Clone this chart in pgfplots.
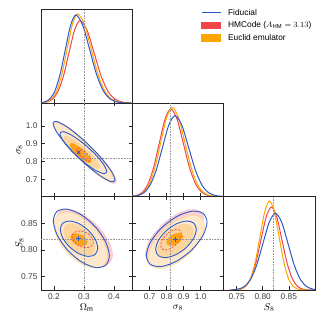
\documentclass[border=0pt]{standalone}
\usepackage{fontspec}
\setmainfont{Liberation Sans}
\usepackage{pgfplots}
\pgfplotsset{compat=1.18}

\definecolor{fidblue}{RGB}{45,90,200}
\definecolor{hmred}{RGB}{243,68,72}
\definecolor{eeorange}{RGB}{255,165,0}
\definecolor{hmpink}{RGB}{249,207,207}
\definecolor{eepeach}{RGB}{253,232,204}
\definecolor{eemed}{RGB}{252,212,158}
\definecolor{eecore}{RGB}{255,163,20}

\pgfplotsset{
  tri/.style={
    scale only axis, width=91.3bp, height=93.5bp, anchor=south west,
    axis line style={line width=0.6pt, black!85},
    tick align=inside, major tick length=3.5bp,
    every tick/.style={black!85, line width=0.5pt},
    tick label style={font=\fontsize{8.4}{10}\selectfont, text=black!75},
    label style={font=\fontsize{9}{11}\selectfont},
    /pgf/number format/assume math mode=true,
    every axis y label/.style={at={(rel axis cs:-0.235,0.5)}, rotate=90, anchor=center},
    every axis x label/.style={at={(rel axis cs:0.5,-0.19)}, anchor=center},
  },
  oneD/.style={ymin=0, ymax=1.05, ytick=\empty, xtick pos=lower},
  om/.style={xmin=0.157, xmax=0.461, xtick={0.2,0.3,0.4}},
  sx/.style={xmin=0.5976, xmax=1.1347, xtick={0.7,0.8,0.9,1.0}},
  Sx/.style={xmin=0.725, xmax=0.90, xtick={0.75,0.80,0.85}},
  one/.style={/pgf/number format/.cd, fixed, fixed zerofill, precision=1},
  two/.style={/pgf/number format/.cd, fixed, fixed zerofill, precision=2},
  refline/.style={black!40, densely dotted, line width=0.6pt},
  pinkf/.style={smooth cycle, fill=hmpink, draw=hmred!30, line width=0.4pt},
  peachf/.style={smooth cycle, fill=eepeach, draw=eeorange!45, line width=0.4pt},
  medf/.style={smooth cycle, fill=eemed, draw=none},
  coref/.style={smooth cycle, fill=eecore, draw=none},
  reddash/.style={smooth cycle, draw=hmred, line width=0.7pt, dash pattern=on 2bp off 1.5bp},
  blueln/.style={smooth cycle, draw=fidblue, line width=0.9pt},
  c1d/.style={smooth, line width=1bp, forget plot},
}

\begin{document}
\begin{tikzpicture}
\useasboundingbox (0,0) rectangle (325bp,325bp);

% ---- Omega_m 1D
\begin{axis}[tri, oneD, om, at={(41bp,222bp)}, xticklabels={},
  legend style={at={(rel axis cs:1.7525,1.029)}, anchor=north west, draw=none, fill=none,
    inner sep=0pt, font=\fontsize{8.4}{10}\selectfont, row sep=1bp, cells={anchor=west},
    /tikz/every odd column/.append style={column sep=5bp}}]
\addplot[c1d, hmred] coordinates {(0.1575,0.0020)(0.176,0.0103)(0.1945,0.0406)(0.213,0.1250)(0.2315,0.3000)(0.25,0.5604)(0.2685,0.8154)(0.287,0.924)(0.3105,0.8154)(0.334,0.5604)(0.3575,0.3000)(0.381,0.1250)(0.4045,0.0406)(0.428,0.0103)(0.4515,0.0020)};
\addplot[c1d, eeorange] coordinates {(0.1565,0.0022)(0.174,0.0111)(0.1915,0.0439)(0.209,0.1353)(0.2265,0.3247)(0.244,0.6065)(0.2615,0.8825)(0.279,1.0)(0.3015,0.8825)(0.324,0.6065)(0.3465,0.3247)(0.369,0.1353)(0.3915,0.0439)(0.414,0.0111)(0.4365,0.0022)(0.459,0.0003)};
\addplot[c1d, fidblue] coordinates {(0.1505,0.0022)(0.168,0.0110)(0.1855,0.0434)(0.203,0.1337)(0.2205,0.3208)(0.238,0.5992)(0.2555,0.8719)(0.273,0.988)(0.296,0.8719)(0.319,0.5992)(0.342,0.3208)(0.365,0.1337)(0.388,0.0434)(0.411,0.0110)(0.434,0.0022)(0.457,0.0003)};
\addplot[refline, forget plot] coordinates {(0.3,0)(0.3,1.05)};
\addlegendimage{legend image code/.code={\draw[fidblue, line width=0.9pt] (0bp,0bp) -- (19bp,0bp);}}
\addlegendentry{Fiducial}
\addlegendimage{legend image code/.code={\fill[hmred] (0bp,-3.3bp) rectangle (19bp,3.3bp);}}
\addlegendentry{HMCode ($A_{\mathrm{HM}}=3.13$)}
\addlegendimage{legend image code/.code={\fill[eeorange] (0bp,-3.3bp) rectangle (19bp,3.3bp);}}
\addlegendentry{Euclid emulator}
\end{axis}

% ---- Omega_m vs sigma_8
\begin{axis}[tri, om, at={(41bp,128.5bp)}, xticklabels={},
  ymin=0.603, ymax=1.129, ytick={0.7,0.8,0.9,1.0}, yticklabel style={one},
  ylabel={$\sigma_8$}]
\addplot[pinkf] coordinates {(0.4081,0.6875)(0.3944,0.7407)(0.3570,0.8227)(0.3059,0.9115)(0.2548,0.9833)(0.2174,1.0188)(0.2037,1.0085)(0.2174,0.9553)(0.2548,0.8733)(0.3059,0.7845)(0.3570,0.7127)(0.3944,0.6772)};
\addplot[peachf] coordinates {(0.3992,0.6964)(0.3858,0.7479)(0.3492,0.8273)(0.2992,0.9132)(0.2492,0.9826)(0.2126,1.0169)(0.1992,1.0070)(0.2126,0.9555)(0.2492,0.8761)(0.2992,0.7902)(0.3492,0.7208)(0.3858,0.6865)};
\addplot[medf] coordinates {(0.3537,0.7673)(0.3455,0.7990)(0.3232,0.8449)(0.2926,0.8926)(0.2621,0.9293)(0.2397,0.9453)(0.2315,0.9361)(0.2397,0.9044)(0.2621,0.8585)(0.2926,0.8108)(0.3232,0.7741)(0.3455,0.7581)};
\addplot[coref] coordinates {(0.3237,0.8001)(0.3189,0.8214)(0.3059,0.8498)(0.2881,0.8777)(0.2703,0.8976)(0.2573,0.9043)(0.2525,0.8959)(0.2573,0.8746)(0.2703,0.8462)(0.2881,0.8183)(0.3059,0.7984)(0.3189,0.7917)};
\addplot[refline] coordinates {(0.3,0.603)(0.3,1.129)};
\addplot[refline] coordinates {(0.157,0.82)(0.461,0.82)};
\addplot[reddash] coordinates {(0.3236,0.8086)(0.3203,0.8239)(0.3114,0.8431)(0.2992,0.8611)(0.2870,0.8731)(0.2781,0.8758)(0.2748,0.8686)(0.2781,0.8533)(0.2870,0.8341)(0.2992,0.8161)(0.3114,0.8041)(0.3203,0.8014)};
\addplot[blueln] coordinates {(0.4036,0.6967)(0.3898,0.7494)(0.3520,0.8305)(0.3003,0.9183)(0.2487,0.9893)(0.2108,1.0244)(0.1970,1.0143)(0.2108,0.9616)(0.2487,0.8805)(0.3003,0.7927)(0.3520,0.7217)(0.3898,0.6866)};
\addplot[blueln] coordinates {(0.3759,0.7435)(0.3655,0.7835)(0.3370,0.8413)(0.2981,0.9014)(0.2592,0.9477)(0.2307,0.9678)(0.2203,0.9563)(0.2307,0.9163)(0.2592,0.8585)(0.2981,0.7984)(0.3370,0.7521)(0.3655,0.7320)};
\addplot[only marks, mark=x, mark size=2.4bp, fidblue, line width=0.8pt] coordinates {(0.2826,0.8517)};
\end{axis}

% ---- sigma_8 1D
\begin{axis}[tri, oneD, sx, at={(132.3bp,128.5bp)}, xticklabels={}]
\addplot[c1d, hmred] coordinates {(0.586,0.0022)(0.620,0.0109)(0.654,0.0432)(0.688,0.1330)(0.722,0.3192)(0.756,0.5962)(0.790,0.8675)(0.824,0.983)(0.861,0.8675)(0.898,0.5962)(0.935,0.3192)(0.972,0.1330)(1.009,0.0432)(1.046,0.0109)(1.083,0.0022)};
\addplot[c1d, eeorange] coordinates {(0.595,0.0022)(0.629,0.0111)(0.663,0.0439)(0.697,0.1353)(0.731,0.3247)(0.765,0.6065)(0.799,0.8825)(0.833,1.0)(0.870,0.8825)(0.907,0.6065)(0.944,0.3247)(0.981,0.1353)(1.018,0.0439)(1.055,0.0111)(1.092,0.0022)};
\addplot[c1d, fidblue] coordinates {(0.590,0.0020)(0.627,0.0101)(0.664,0.0398)(0.701,0.1227)(0.738,0.2945)(0.775,0.5501)(0.812,0.8004)(0.849,0.907)(0.889,0.8004)(0.929,0.5501)(0.969,0.2945)(1.009,0.1227)(1.049,0.0398)(1.089,0.0101)(1.129,0.0020)};
\addplot[refline] coordinates {(0.82,0)(0.82,1.05)};
\end{axis}

% ---- Omega_m vs S_8
\begin{axis}[tri, om, at={(41bp,35bp)}, xticklabel style={one},
  ymin=0.725, ymax=0.90, ytick={0.75,0.80,0.85}, yticklabel style={two},
  xlabel={$\Omega_{\mathrm{m}}$}, ylabel={$S_8$}]
\addplot[pinkf] coordinates {(0.3958,0.7906)(0.3832,0.8158)(0.3486,0.8431)(0.3014,0.8651)(0.2542,0.8760)(0.2196,0.8728)(0.2070,0.8564)(0.2196,0.8312)(0.2542,0.8039)(0.3014,0.7819)(0.3486,0.7710)(0.3832,0.7742)};
\addplot[peachf] coordinates {(0.3770,0.7897)(0.3651,0.8154)(0.3326,0.8420)(0.2881,0.8623)(0.2437,0.8708)(0.2111,0.8653)(0.1992,0.8473)(0.2111,0.8216)(0.2437,0.7950)(0.2881,0.7747)(0.3326,0.7662)(0.3651,0.7717)};
\addplot[medf] coordinates {(0.3381,0.8048)(0.3310,0.8198)(0.3115,0.8348)(0.2848,0.8458)(0.2582,0.8498)(0.2386,0.8458)(0.2315,0.8348)(0.2386,0.8198)(0.2582,0.8048)(0.2848,0.7938)(0.3115,0.7898)(0.3310,0.7938)};
\addplot[coref] coordinates {(0.3126,0.8144)(0.3087,0.8205)(0.2982,0.8263)(0.2837,0.8301)(0.2693,0.8310)(0.2587,0.8288)(0.2548,0.8240)(0.2587,0.8179)(0.2693,0.8121)(0.2837,0.8083)(0.2982,0.8074)(0.3087,0.8096)};
\addplot[refline] coordinates {(0.3,0.725)(0.3,0.90)};
\addplot[refline] coordinates {(0.157,0.82)(0.461,0.82)};
\addplot[reddash] coordinates {(0.3315,0.8151)(0.3267,0.8232)(0.3137,0.8303)(0.2959,0.8347)(0.2781,0.8350)(0.2651,0.8313)(0.2603,0.8245)(0.2651,0.8164)(0.2781,0.8093)(0.2959,0.8049)(0.3137,0.8046)(0.3267,0.8083)};
\addplot[blueln] coordinates {(0.3847,0.7888)(0.3722,0.8151)(0.3381,0.8433)(0.2914,0.8656)(0.2448,0.8762)(0.2106,0.8722)(0.1981,0.8546)(0.2106,0.8283)(0.2448,0.8001)(0.2914,0.7778)(0.3381,0.7672)(0.3722,0.7712)};
\addplot[blueln] coordinates {(0.3459,0.8035)(0.3376,0.8198)(0.3148,0.8365)(0.2837,0.8491)(0.2526,0.8541)(0.2298,0.8502)(0.2215,0.8385)(0.2298,0.8222)(0.2526,0.8055)(0.2837,0.7929)(0.3148,0.7879)(0.3376,0.7918)};
\addplot[only marks, mark=+, mark size=2.4bp, fidblue, line width=0.8pt] coordinates {(0.2826,0.8210)};
\end{axis}

% ---- sigma_8 vs S_8
\begin{axis}[tri, sx, at={(132.3bp,35bp)}, xticklabel style={one},
  ymin=0.725, ymax=0.90, ytick={0.75,0.80,0.85}, yticklabels={},
  xlabel={$\sigma_8$}]
\addplot[pinkf] coordinates {(1.0194,0.8565)(0.9963,0.8724)(0.9332,0.8755)(0.8469,0.8650)(0.7607,0.8437)(0.6975,0.8174)(0.6744,0.7931)(0.6975,0.7772)(0.7607,0.7741)(0.8469,0.7846)(0.9332,0.8059)(0.9963,0.8322)};
\addplot[peachf] coordinates {(1.0234,0.8447)(1.0011,0.8607)(0.9401,0.8643)(0.8567,0.8547)(0.7734,0.8344)(0.7123,0.8088)(0.6900,0.7849)(0.7123,0.7689)(0.7734,0.7653)(0.8567,0.7749)(0.9401,0.7952)(1.0011,0.8208)};
\addplot[medf] coordinates {(0.9586,0.8351)(0.9442,0.8458)(0.9047,0.8490)(0.8508,0.8440)(0.7969,0.8319)(0.7574,0.8161)(0.7430,0.8007)(0.7574,0.7900)(0.7969,0.7868)(0.8508,0.7918)(0.9047,0.8039)(0.9442,0.8197)};
\addplot[coref] coordinates {(0.8959,0.8252)(0.8893,0.8298)(0.8714,0.8317)(0.8469,0.8304)(0.8224,0.8263)(0.8045,0.8205)(0.7979,0.8144)(0.8045,0.8098)(0.8224,0.8079)(0.8469,0.8092)(0.8714,0.8133)(0.8893,0.8191)};
\addplot[refline] coordinates {(0.82,0.725)(0.82,0.90)};
\addplot[refline] coordinates {(0.5976,0.82)(1.1347,0.82)};
\addplot[reddash] coordinates {(0.8861,0.8298)(0.8780,0.8365)(0.8557,0.8385)(0.8253,0.8353)(0.7949,0.8278)(0.7726,0.8181)(0.7645,0.8086)(0.7726,0.8019)(0.7949,0.7999)(0.8253,0.8031)(0.8557,0.8106)(0.8780,0.8203)};
\addplot[blueln] coordinates {(1.0371,0.8520)(1.0132,0.8686)(0.9479,0.8724)(0.8587,0.8624)(0.7695,0.8412)(0.7042,0.8145)(0.6803,0.7894)(0.7042,0.7728)(0.7695,0.7690)(0.8587,0.7790)(0.9479,0.8002)(1.0132,0.8269)};
\addplot[blueln] coordinates {(0.9743,0.8387)(0.9583,0.8505)(0.9145,0.8540)(0.8547,0.8484)(0.7949,0.8352)(0.7511,0.8178)(0.7351,0.8009)(0.7511,0.7891)(0.7949,0.7856)(0.8547,0.7912)(0.9145,0.8044)(0.9583,0.8218)};
\addplot[only marks, mark=+, mark size=2.4bp, fidblue, line width=0.8pt] coordinates {(0.8528,0.8198)};
\end{axis}

% ---- S_8 1D
\begin{axis}[tri, oneD, Sx, at={(223.6bp,35bp)}, xticklabel style={two},
  xlabel={$S_8$}]
\addplot[c1d, hmred] coordinates {(0.7367,0.0003)(0.7467,0.0021)(0.7567,0.0103)(0.7667,0.0409)(0.7767,0.1261)(0.7867,0.3026)(0.7967,0.5653)(0.8067,0.8225)(0.8167,0.932)(0.8267,0.8225)(0.8367,0.5653)(0.8467,0.3026)(0.8567,0.1261)(0.8667,0.0409)(0.8767,0.0103)(0.8867,0.0021)(0.8967,0.0003)};
\addplot[c1d, eeorange] coordinates {(0.741,0.0003)(0.750,0.0022)(0.759,0.0111)(0.768,0.0439)(0.777,0.1353)(0.786,0.3247)(0.795,0.6065)(0.804,0.8825)(0.813,1.0)(0.822,0.8825)(0.831,0.6065)(0.840,0.3247)(0.849,0.1353)(0.858,0.0439)(0.867,0.0111)(0.876,0.0022)(0.885,0.0003)};
\addplot[c1d, fidblue] coordinates {(0.7404,0.0019)(0.7524,0.0096)(0.7644,0.0378)(0.7764,0.1165)(0.7884,0.2796)(0.8004,0.5222)(0.8124,0.7598)(0.8244,0.861)(0.8364,0.7598)(0.8484,0.5222)(0.8604,0.2796)(0.8724,0.1165)(0.8844,0.0378)(0.8964,0.0096)(0.9084,0.0019)};
\addplot[refline] coordinates {(0.82,0)(0.82,1.05)};
\end{axis}
\end{tikzpicture}
\end{document}
